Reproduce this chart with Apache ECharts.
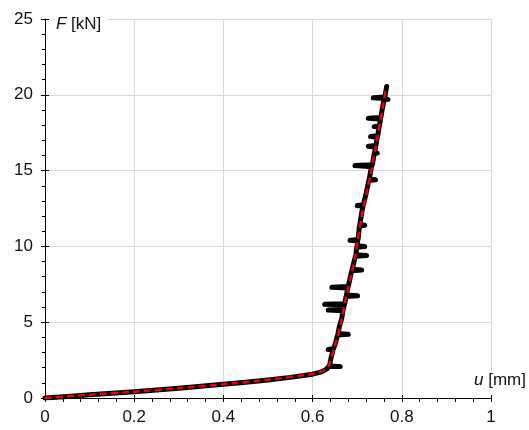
<!DOCTYPE html>
<html>
<head>
<meta charset="utf-8">
<script src="https://cdn.jsdelivr.net/npm/echarts@6/dist/echarts.min.js"></script>
<style>html,body{margin:0;padding:0;background:#fff}#c{width:529px;height:430px}</style>
</head>
<body>
<div id="c"></div>
<script>
// Measured (noisy) data: displacement u [mm] and force F [kN]
var measuredU = [0,0.05,0.1,0.15,0.2,0.25,0.3,0.35,0.4,0.45,0.5,0.55,0.6,0.62,0.632,0.636,0.662,0.638,0.641,0.646,0.635,0.647,0.652,0.656,0.680,0.657,0.66,0.665,0.668,0.635,0.669,0.671,0.627,0.672,0.675,0.701,0.676,0.679,0.643,0.68,0.684,0.688,0.710,0.689,0.693,0.696,0.721,0.697,0.699,0.717,0.70,0.701,0.684,0.702,0.705,0.717,0.706,0.71,0.713,0.70,0.714,0.72,0.726,0.741,0.727,0.732,0.695,0.734,0.738,0.745,0.739,0.741,0.725,0.742,0.745,0.73,0.746,0.749,0.738,0.75,0.752,0.725,0.753,0.757,0.76,0.769,0.76,0.736,0.762,0.766];
var measuredF = [0,0.1,0.22,0.31,0.41,0.52,0.64,0.77,0.9,1.04,1.19,1.36,1.57,1.72,1.92,2.07,2.07,2.12,2.6,3.2,3.2,3.25,3.7,4.15,4.2,4.25,4.7,5.2,5.75,5.8,5.85,6.15,6.18,6.22,6.7,6.75,6.8,7.25,7.3,7.35,7.9,8.4,8.45,8.5,9.0,9.35,9.4,9.45,9.95,10.0,10.05,10.35,10.4,10.45,11.35,11.4,11.45,12.2,12.65,12.7,12.75,13.5,14.35,14.4,14.45,15.25,15.33,15.38,16.1,16.15,16.2,16.55,16.6,16.65,17.2,17.25,17.3,17.85,17.9,17.95,18.4,18.46,18.5,19.2,19.65,19.7,19.75,19.8,19.85,20.55];
// Fitted curve
var fitU = [0,0.1,0.2,0.3,0.4,0.5,0.6,0.625,0.635,0.643,0.654,0.665,0.674,0.684,0.694,0.701,0.710,0.721,0.732,0.743,0.754,0.764];
var fitF = [0,0.22,0.42,0.64,0.9,1.2,1.58,1.8,2.05,2.73,3.83,5.15,6.47,7.79,9.1,10.4,12.0,13.5,15.05,16.8,18.6,20.3];
// Axis ticks
var xTicks = [0,0.2,0.4,0.6,0.8,1];
var yTicks = [0,5,10,15,20,25];

function pairs(a,b){return a.map(function(v,i){return [v,b[i]];});}
var font = '"Liberation Sans", Arial, sans-serif';
var fs = 17;
var chart = echarts.init(document.getElementById('c'), null, {renderer:'canvas'});
chart.setOption({
  animation:false,
  backgroundColor:'#fff',
  grid:{left:45,right:36,top:19,bottom:32,containLabel:false},
  xAxis:[{
    type:'value',min:xTicks[0],max:xTicks[xTicks.length-1],interval:0.2,
    name:'{i|u} [mm]',nameLocation:'end',nameGap:35,
    nameTextStyle:{align:'right',verticalAlign:'bottom',padding:[0,0,9,3],backgroundColor:'#fff',fontFamily:font,fontSize:fs,color:'#111',
      rich:{i:{fontStyle:'italic',fontFamily:font,fontSize:fs,color:'#111'}}},
    axisLine:{show:true,lineStyle:{color:'#000',width:1}},
    axisTick:{show:true,inside:false,length:4,lineStyle:{color:'#000'}},
    minorTick:{show:true,splitNumber:5,length:4,lineStyle:{color:'#000'}},
    splitLine:{show:true,lineStyle:{color:'#d9d9d9',width:1}},
    axisLabel:{margin:11,fontFamily:font,fontSize:fs,color:'#111',formatter:function(v){return String(v);}}
  },{
    type:'value',min:xTicks[0],max:xTicks[xTicks.length-1],interval:0.2,position:'bottom',
    axisLine:{show:false},axisTick:{show:true,inside:true,length:3,lineStyle:{color:'#000'}},
    axisLabel:{show:false},splitLine:{show:false}
  }],
  yAxis:[{
    type:'value',min:yTicks[0],max:yTicks[yTicks.length-1],interval:5,
    name:'{i|F} [kN]',nameLocation:'end',nameGap:0,
    nameTextStyle:{align:'left',verticalAlign:'middle',padding:[10,7,0,11],backgroundColor:'#fff',fontFamily:font,fontSize:fs,color:'#111',
      rich:{i:{fontStyle:'italic',fontFamily:font,fontSize:fs,color:'#111'}}},
    axisLine:{show:true,lineStyle:{color:'#000',width:1}},
    axisTick:{show:true,inside:false,length:4,lineStyle:{color:'#000'}},
    minorTick:{show:true,splitNumber:5,length:3,lineStyle:{color:'#000'}},
    splitLine:{show:true,lineStyle:{color:'#d9d9d9',width:1}},
    axisLabel:{margin:12,fontFamily:font,fontSize:fs,color:'#111'}
  },{
    type:'value',min:yTicks[0],max:yTicks[yTicks.length-1],interval:5,position:'left',
    axisLine:{show:false},axisTick:{show:true,inside:true,length:4,lineStyle:{color:'#000'}},
    axisLabel:{show:false},splitLine:{show:false}
  }],
  series:[{
    type:'line',data:pairs(measuredU,measuredF),showSymbol:false,symbol:'none',
    lineStyle:{color:'#000',width:5,join:'round',cap:'round'},z:3
  },{
    type:'line',data:pairs(fitU,fitF),showSymbol:false,symbol:'none',smooth:0.2,
    lineStyle:{color:'#ee0000',width:2.5,type:[7,4]},z:4
  }]
});
</script>
</body>
</html>
